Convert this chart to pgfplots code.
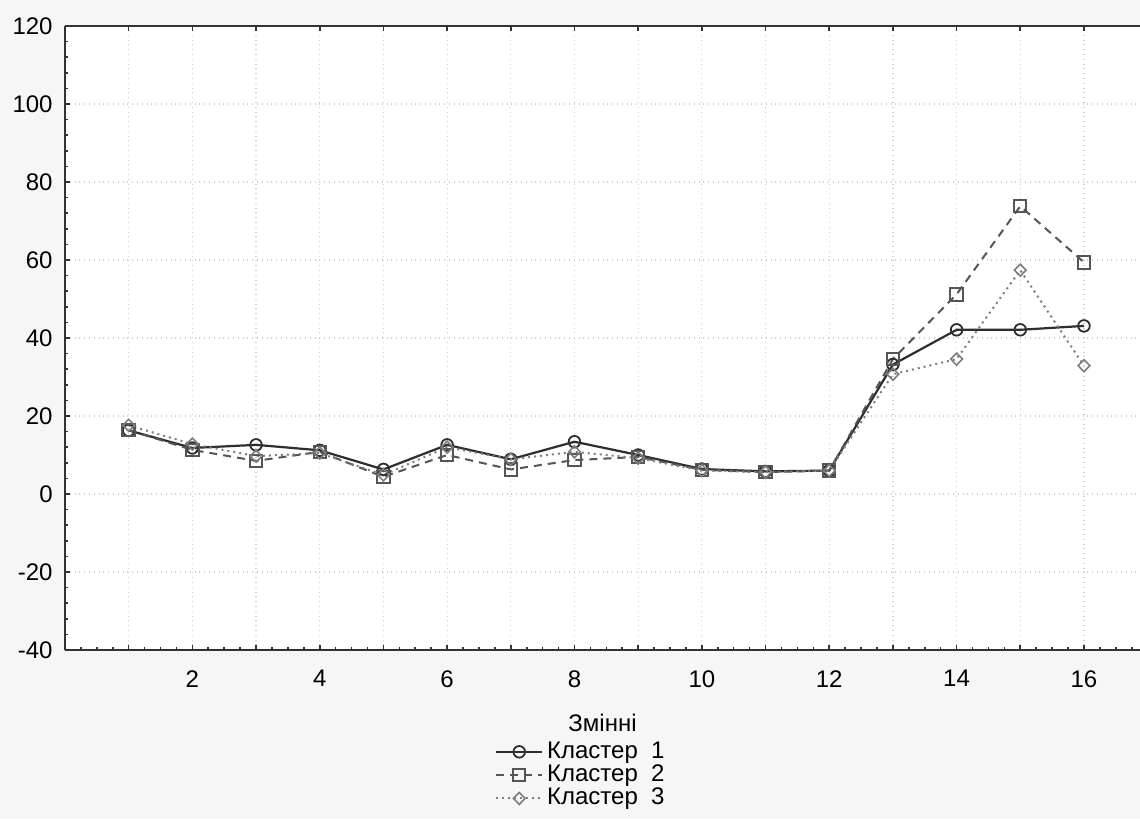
\documentclass[border=0pt]{standalone}
\usepackage{pgfplots}
\pgfplotsset{compat=1.18}
\usepackage{fontspec}
\setmainfont{Liberation Sans}
\definecolor{bggray}{HTML}{F6F6F6}
\definecolor{gridgray}{HTML}{D0D0D0}
\definecolor{axdark}{HTML}{333333}
\definecolor{cone}{HTML}{2E2E2E}
\definecolor{ctwo}{HTML}{555555}
\definecolor{cthree}{HTML}{7E7E7E}
\begin{document}
\begin{tikzpicture}
\fontsize{12}{14.4}\selectfont
\path[use as bounding box, fill=bggray] (-32.5pt,-84.5pt) rectangle (537.5pt,325pt);
\begin{axis}[
  at={(0,0)}, anchor=south west,
  scale only axis, width=537.5pt, height=312pt,
  xmin=0, xmax=16.88, ymin=-40, ymax=120,
  axis background/.style={fill=white},
  axis x line=box, axis y line*=left,
  axis line style={draw=axdark, line width=1pt, -},
  xtick={1,...,16},
  xticklabels={,2,,4,,6,,8,,10,,12,,14,,16},
  ytick={-40,-20,...,120},
  minor y tick num=4,
  tick align=inside,
  major tick length=2.5pt, minor tick length=1.5pt,
  every tick/.style={draw=axdark, line width=0.8pt},
  grid=major,
  major grid style={draw=gridgray, dotted, line width=0.6pt},
  /pgf/number format/assume math mode=true,
  ticklabel style={font=\fontsize{12}{14.4}\selectfont},
  xticklabel style={yshift=-6pt},
  yticklabel style={xshift=-2pt},
  xlabel={Змінні},
  xlabel style={font=\fontsize{12}{14.4}\selectfont, yshift=-5pt},
  legend cell align=left,
  legend style={at={(0.4,-0.14)}, anchor=north west, draw=none, fill=none,
    font=\fontsize{12}{14.4}\selectfont, row sep=-2.5pt, inner sep=0pt},
  legend image code/.code={\draw[mark repeat=2,mark phase=2,#1] plot coordinates {(0cm,0cm) (0.4cm,0cm) (0.8cm,0cm)};},
]
\addplot[color=cone, line width=1.1pt, mark=o, mark size=2.9pt, mark options={solid, fill=white, draw=cone, line width=0.9pt}]
coordinates {(1,16.3) (2,11.8) (3,12.6) (4,11.2) (5,6.3) (6,12.6) (7,8.9) (8,13.4) (9,10.0) (10,6.4) (11,5.8) (12,6.0) (13,33.2) (14,42.1) (15,42.1) (16,43.1)};
\addlegendentry{Кластер\ \ 1}
\addplot[color=ctwo, line width=1pt, dash pattern=on 4pt off 3pt, mark=square, mark size=3.1pt, mark options={solid, fill=white, draw=ctwo, line width=1pt}]
coordinates {(1,16.4) (2,11.3) (3,8.5) (4,10.8) (5,4.4) (6,10.0) (7,6.3) (8,8.7) (9,9.5) (10,6.2) (11,5.6) (12,6.0) (13,34.6) (14,51.2) (15,73.8) (16,59.4)};
\addlegendentry{Кластер\ \ 2}
\addplot[color=cthree, line width=1pt, dotted, mark=diamond, mark size=3pt, mark options={solid, fill=white, draw=cthree, line width=0.8pt, xscale=1.3}]
coordinates {(1,17.6) (2,12.8) (3,9.7) (4,10.5) (5,4.9) (6,12.0) (7,8.9) (8,10.8) (9,9.2) (10,6.0) (11,5.6) (12,6.0) (13,30.7) (14,34.6) (15,57.4) (16,32.9)};
\addlegendentry{Кластер\ \ 3}
\end{axis}
\begin{axis}[
  at={(0,0)}, anchor=south west,
  scale only axis, width=537.5pt, height=312pt,
  xmin=0, xmax=16.88, ymin=-40, ymax=120,
  axis line style={draw=none},
  ytick=\empty,
  xtick={0,0.25,...,16.75}, xticklabels={},
  xtick pos=bottom, tick align=inside,
  major tick length=1.5pt,
  every tick/.style={draw=axdark, line width=0.8pt},
]
\end{axis}
\end{tikzpicture}
\end{document}
